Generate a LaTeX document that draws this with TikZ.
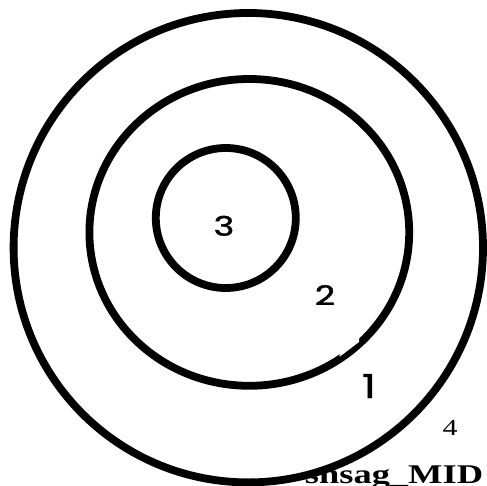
\documentclass[tikz,border=0pt]{standalone}
\usepackage{fontspec}
\usepackage{graphicx}
\setmainfont{Liberation Serif}
\newfontfamily\ringfont[FakeBold=1.3]{Poppins}
\usetikzlibrary{positioning}
\newcommand{\wide}[1]{\scalebox{1.3}[1]{#1}}
\tikzset{
  ring/.style      = {black, line width=7.8pt},
  outerring/.style = {ring, fill=white},
  ringlbl/.style   = {font=\ringfont\fontsize{27}{27}\selectfont, inner sep=0pt, anchor=base},
  biglbl/.style    = {font=\ringfont\fontsize{33}{33}\selectfont, inner sep=0pt, anchor=base},
  serlbl/.style    = {font=\fontsize{23}{23}\selectfont, inner sep=0pt, anchor=base},
  taglbl/.style    = {font=\bfseries\fontsize{27}{27}\selectfont, inner sep=0pt, anchor=base west},
  notch/.style     = {fill=white, draw=none},
}

\begin{document}
\begin{tikzpicture}[x=1pt, y=-1pt]
  \useasboundingbox (0,0) rectangle (487,486);

  % tag text sits under the white outer ring
  \node[taglbl] (tag) at (304.7,483) {\scalebox{1.35}[1]{shsag\_MID}};

  \draw[outerring] (248.3,247.7) circle[radius=234.7];
  \draw[ring] (249.3,232.4) ellipse[x radius=159.9, y radius=153.4];
  \draw[ring] (225.8,218) circle[radius=70];

  \fill[notch] (339.5,350) -- (339.5,356.8) -- (359,342) -- (359,335) -- cycle;

  \node[ringlbl] (three) at (224,235.7) {\wide{3}};
  \node[ringlbl] (two)   at (325,305)   {\wide{2}};
  \node[biglbl]  (one)   at (369,398)   {\wide{1}};
  \node[serlbl]  (four)  at (450,435)   {\wide{4}};
\end{tikzpicture}
\end{document}
